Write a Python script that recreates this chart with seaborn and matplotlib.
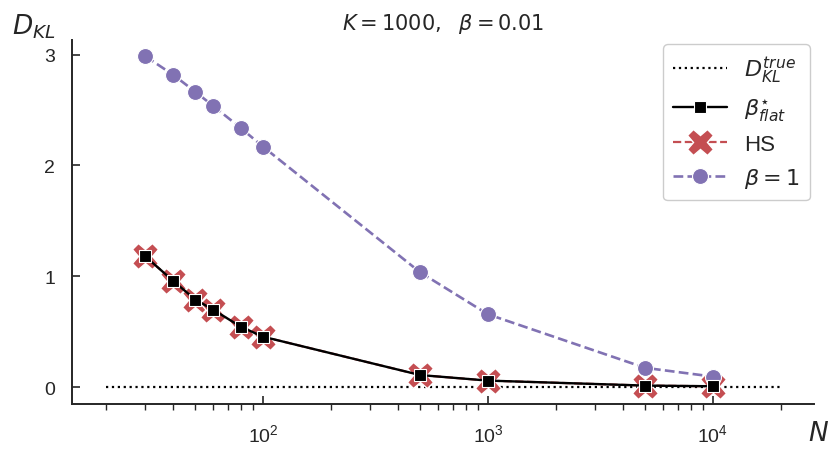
import numpy as np
import pandas as pd
import matplotlib
matplotlib.use("Agg")
import matplotlib.pyplot as plt
import seaborn as sns

# sample sizes
N = [30, 40, 50, 60, 80, 100, 500, 1000, 5000, 10000]

# KL divergences
dkl_flat = [1.18, 0.957, 0.791, 0.70, 0.544, 0.456, 0.11, 0.06, 0.015, 0.009]
dkl_hs = [1.18, 0.957, 0.791, 0.70, 0.544, 0.456, 0.11, 0.06, 0.015, 0.009]
dkl_beta1 = [2.985, 2.816, 2.665, 2.538, 2.335, 2.17, 1.036, 0.658, 0.175, 0.096]

# true value (reference line)
N_true = [20, 20000]
dkl_true = [0, 0]

sns.set_theme(style="ticks")
plt.rcParams['font.family'] = ['Liberation Sans', 'DejaVu Sans']
plt.rcParams['mathtext.fontset'] = 'dejavusans'

pal = sns.color_palette("deep")
red = pal[3]
purple = pal[4]

fig, ax = plt.subplots(figsize=(8.31, 4.6), dpi=100)
fig.subplots_adjust(left=0.0866, right=0.98, bottom=0.12, top=0.9115)

sns.lineplot(x=N_true, y=dkl_true, ax=ax, color='black', linestyle=':', lw=1.6,
             label=r'$D_{KL}^{true}$', zorder=2)
sns.lineplot(x=N, y=dkl_flat, ax=ax, color='black', lw=1.7, marker='s', markersize=8.5,
             markeredgecolor='white', markeredgewidth=0.8,
             label=r'$\beta^{\star}_{flat}$', zorder=4)
sns.lineplot(x=N, y=dkl_hs, ax=ax, color=red, lw=1.6, linestyle='--', marker='X',
             markersize=19, markeredgecolor='white', markeredgewidth=1.0,
             label='HS', zorder=3)
sns.lineplot(x=N, y=dkl_beta1, ax=ax, color=purple, lw=1.9, linestyle='--', marker='o',
             markersize=11.5, markeredgecolor='white', markeredgewidth=0.8,
             label=r'$\beta=1$', zorder=3)

ax.set_xscale('log')
ax.set_yticks([0, 1, 2, 3])
ax.tick_params(axis='both', which='major', direction='in', labelsize=14, length=6, width=1.2)
ax.tick_params(axis='x', which='minor', direction='out', length=4, width=1)
ax.tick_params(axis='x', which='major', pad=14)
ax.tick_params(axis='y', which='major', pad=12)
for s in ['left', 'bottom']:
    ax.spines[s].set_linewidth(1.4)
sns.despine(ax=ax)

ax.set_xlabel('')
ax.set_ylabel('')
ax.set_title(r'$K=1000,\ \ \beta=0.01$', fontsize=15, pad=8)
fig.text(0.014, 0.91, r'$D_{KL}$', fontsize=19, ha='left', va='bottom')
fig.text(0.972, 0.03, r'$N$', fontsize=19, ha='left', va='bottom')

ax.legend(loc='upper right', fontsize=16, handlelength=2.4, framealpha=1,
          borderpad=0.45, labelspacing=0.5, borderaxespad=0.2,
          bbox_to_anchor=(1.0, 1.0))

fig.savefig('out.png', dpi=100)
